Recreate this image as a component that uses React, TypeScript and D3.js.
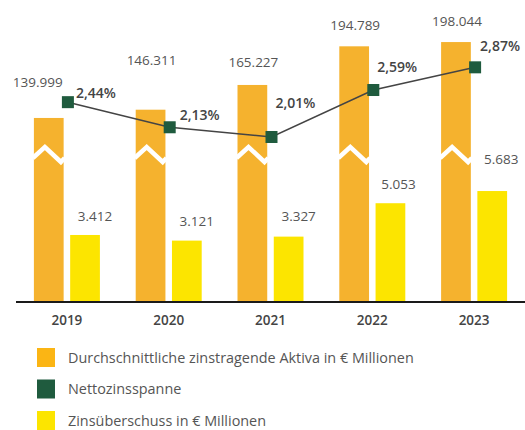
import React from "react";
import * as d3 from "d3";

const years = ["2019", "2020", "2021", "2022", "2023"];
const aktiva = [139999, 146311, 165227, 194789, 198044];
const marge = [2.44, 2.13, 2.01, 2.59, 2.87];
const zinsueberschuss = [3412, 3121, 3327, 5053, 5683];
const aktivaLabels = ["139.999", "146.311", "165.227", "194.789", "198.044"];
const margeLabels = ["2,44%", "2,13%", "2,01%", "2,59%", "2,87%"];
const zinsLabels = ["3.412", "3.121", "3.327", "5.053", "5.683"];
const legendItems = [
  "Durchschnittliche zinstragende Aktiva in € Millionen",
  "Nettozinsspanne",
  "Zinsüberschuss in € Millionen",
];

// hand placement of the value labels so they dodge the line
const aktivaNudge = [[-11, -36], [1, -49], [1, -23], [1, -21], [1, -21]];
const margeNudge = [[8, -9], [10, -12], [4, -34], [4, -23], [5, -21]];
const zinsNudge = [[10, -19], [10, -19], [10, -20], [8, -19], [9, -32]];

const ORANGE = "#F5B22E";
const YELLOW = "#FCE500";
const GREEN = "#1F5B3E";
const FONT = "'Open Sans', sans-serif";

export default function App() {
  const width = 525;
  const height = 430;
  const baseline = 301;

  const x = d3.scaleBand().domain(years).range([16, 525]).padding(0);
  const sub = d3
    .scaleBand()
    .domain(["aktiva", "zins"])
    .range([-33, 33])
    .paddingInner(0.18);
  const yA = d3.scaleLinear().domain([0, 200000]).range([baseline, baseline - 261.5]);
  const yZ = d3.scaleLinear().domain([0, 6000]).range([baseline, baseline - 116.1]);
  const yN = d3.scaleLinear().domain([2, 3]).range([137.8, 56.8]);

  const cx = (i: number) => (x(years[i]) as number) + x.bandwidth() / 2;
  const bw = sub.bandwidth();

  const line = d3
    .line<number>()
    .x((_, i) => cx(i) + 1)
    .y((d) => yN(d));

  const colors = ["#FBB514", GREEN, YELLOW];

  return (
    <svg
      width={width}
      height={height}
      style={{ position: "absolute", left: 0, top: 0, background: "#fff" }}
      fontFamily={FONT}
    >
      {aktiva.map((v, i) => {
        const x0 = cx(i) + (sub("aktiva") as number);
        const top = yA(v);
        return (
          <g key={"a" + i}>
            <rect x={x0} y={top} width={bw} height={baseline - top} fill={ORANGE} />
            <polyline
              points={`${x0 - 1},158 ${x0 + 11},147 ${x0 + 27},162 ${x0 + bw + 1},158`}
              fill="none"
              stroke="#fff"
              strokeWidth={4.5}
            />
            <text
              x={x0 + bw / 2 + aktivaNudge[i][0]}
              y={top + aktivaNudge[i][1]}
              dy="0.35em"
              textAnchor="middle"
              fontSize={13.5}
              fill="#555"
            >
              {aktivaLabels[i]}
            </text>
          </g>
        );
      })}
      {zinsueberschuss.map((v, i) => {
        const x0 = cx(i) + (sub("zins") as number);
        const top = yZ(v);
        return (
          <g key={"z" + i}>
            <rect x={x0} y={top} width={bw} height={baseline - top} fill={YELLOW} />
            <text
              x={x0 + bw / 2 + zinsNudge[i][0]}
              y={top + zinsNudge[i][1]}
              dy="0.35em"
              textAnchor="middle"
              fontSize={13.5}
              fill="#555"
            >
              {zinsLabels[i]}
            </text>
          </g>
        );
      })}
      <line x1={16} x2={525} y1={302} y2={302} stroke="#1a1a1a" strokeWidth={2} />
      {years.map((yr, i) => (
        <text
          key={yr}
          x={cx(i)}
          y={320}
          dy="0.35em"
          textAnchor="middle"
          fontSize={13.5}
          fontWeight={600}
          fill="#444"
        >
          {yr}
        </text>
      ))}
      <path d={line(marge) || ""} fill="none" stroke="#444" strokeWidth={1.5} />
      {marge.map((v, i) => (
        <g key={"m" + i}>
          <rect x={cx(i) + 1 - 6} y={yN(v) - 6} width={12} height={12} fill={GREEN} />
          <text
            x={cx(i) + 1 + margeNudge[i][0]}
            y={yN(v) + margeNudge[i][1]}
            dy="0.35em"
            fontSize={14}
            fontWeight={600}
            fill="#444"
          >
            {margeLabels[i]}
          </text>
        </g>
      ))}
      {legendItems.map((label, i) => (
        <g key={label} transform={`translate(37,${348 + i * 31.5})`}>
          <rect width={18} height={19} fill={colors[i]} />
          <text x={31} y={9.5} dy="0.35em" fontSize={14.4} fill="#555">
            {label}
          </text>
        </g>
      ))}
    </svg>
  );
}
